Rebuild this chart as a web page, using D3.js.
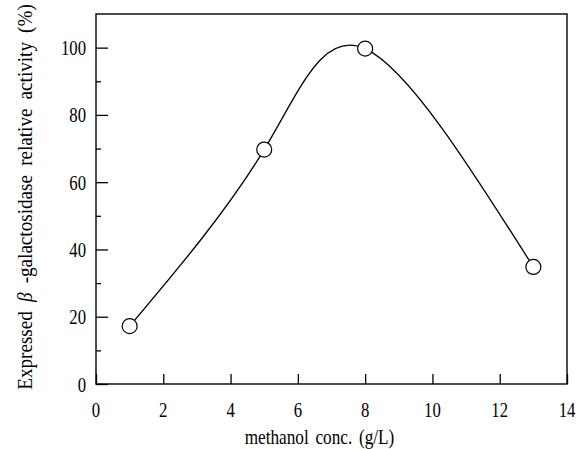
<!DOCTYPE html>
<html><head><meta charset="utf-8">
<script src="https://cdn.jsdelivr.net/npm/d3@7"></script>
<style>body{margin:0;background:#fff}svg{display:block}</style>
</head><body>
<script>
const concentrations = [1, 5, 8, 13];
const activity = [17.2, 69.7, 99.7, 34.8];
const xTicks = [0, 2, 4, 6, 8, 10, 12, 14];
const yTicks = [0, 20, 40, 60, 80, 100];
const yMinorTicks = [10, 30, 50, 70, 90];
const xLabel = "methanol conc. (g/L)";
const yLabelParts = ["Expressed ", "β", " -galactosidase relative activity (%)"];

const W = 587, H = 449;
const m = {left: 96, top: 14, right: 20, bottom: 65};
const svg = d3.select("body").append("svg").attr("width", W).attr("height", H);
const x = d3.scaleLinear().domain([0, 14]).range([m.left, W - m.right]);
const y = d3.scaleLinear().domain([0, 110]).range([H - m.bottom, m.top]);
const font = "'Liberation Serif', 'DejaVu Serif', serif";
const SX = 0.76;

// frame
svg.append("rect").attr("x", x(0)).attr("y", y(110)).attr("width", x(14) - x(0)).attr("height", y(0) - y(110))
  .attr("fill", "none").attr("stroke", "#000").attr("stroke-width", 1.4);

// axes (inward ticks)
const gx = svg.append("g").attr("transform", `translate(0,${y(0)})`)
  .call(d3.axisBottom(x).tickValues(xTicks).tickSize(-10).tickFormat(""));
const gy = svg.append("g").attr("transform", `translate(${x(0)},0)`)
  .call(d3.axisLeft(y).tickValues(yTicks).tickSize(-12).tickFormat(""));
const gym = svg.append("g").attr("transform", `translate(${x(0)},0)`)
  .call(d3.axisLeft(y).tickValues(yMinorTicks).tickSize(-5).tickFormat(""));
[gx, gy, gym].forEach(g => {
  g.select(".domain").remove();
  g.selectAll("line").attr("stroke", "#000").attr("stroke-width", 1.3);
});

// tick labels
svg.selectAll(".xt").data(xTicks).enter().append("text")
  .attr("transform", d => `translate(${x(d)},${y(0) + 33}) scale(${SX},1)`)
  .attr("text-anchor", "middle").attr("font-family", font).attr("font-size", 22)
  .attr("fill", "#000").text(d => d);
svg.selectAll(".yt").data(yTicks).enter().append("text")
  .attr("transform", d => `translate(${x(0) - 10},${y(d) + 7.5}) scale(${SX},1)`)
  .attr("text-anchor", "end").attr("font-family", font).attr("font-size", 22)
  .attr("fill", "#000").text(d => d);

// axis titles
svg.append("text")
  .attr("transform", `translate(${(x(0) + x(14)) / 2 - 12},${H - 5}) scale(0.82,1)`)
  .attr("text-anchor", "middle").attr("font-family", font).attr("font-size", 21)
  .attr("word-spacing", 3).attr("fill", "#000").text(xLabel);
const yl = svg.append("text")
  .attr("transform", `translate(32,${(y(0) + y(110)) / 2 - 2}) rotate(-90) scale(0.87,1)`)
  .attr("text-anchor", "middle").attr("font-family", font).attr("font-size", 22)
  .attr("word-spacing", 5).attr("fill", "#000");
yl.selectAll("tspan").data(yLabelParts).enter().append("tspan")
  .attr("font-style", (d, i) => i === 1 ? "italic" : "normal").text(d => d);

// curve
const pts = concentrations.map((c, i) => [x(c), y(activity[i])]);
svg.append("path").attr("d", d3.line().curve(d3.curveNatural)(pts))
  .attr("fill", "none").attr("stroke", "#000").attr("stroke-width", 1.3);

// markers
svg.selectAll("circle").data(pts).enter().append("circle")
  .attr("cx", d => d[0]).attr("cy", d => d[1]).attr("r", 7.5)
  .attr("fill", "#fff").attr("stroke", "#000").attr("stroke-width", 1.2);
</script>
</body></html>
